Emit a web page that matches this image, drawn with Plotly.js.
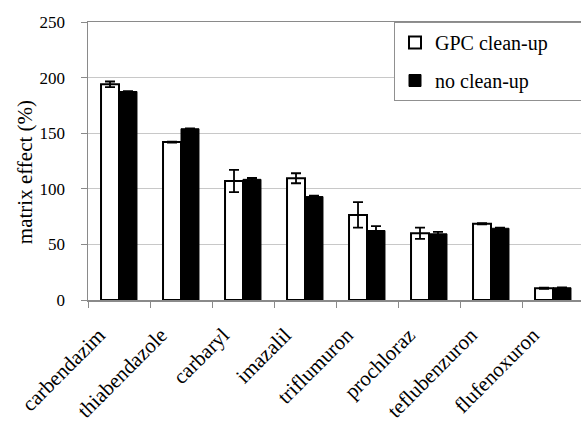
<!DOCTYPE html>
<html>
<head>
<meta charset="utf-8">
<script src="https://cdn.plot.ly/plotly-3.0.1.min.js"></script>
<style>
html, body { margin:0; padding:0; overflow:hidden; background:#fff; }
#chart { width:584px; height:426px; }
</style>
</head>
<body>
<div id="chart"></div>
<script>
var categories = ["carbendazim","thiabendazole","carbaryl","imazalil","triflumuron","prochloraz","teflubenzuron","flufenoxuron"];
var gpcValues = [194, 142, 107, 109.5, 76.5, 60, 68.5, 10.5];
var gpcErrors = [2.5, 0.5, 10, 4.5, 11.5, 5, 0.5, 0.5];
var noValues  = [187.5, 154, 108.5, 93, 62.5, 59.5, 64.5, 11];
var noErrors  = [0.3, 0.3, 1.2, 0.8, 4, 1.8, 0.5, 0.3];
var seriesNames = ["GPC clean-up", "no clean-up"];
var yTicks = [0, 50, 100, 150, 200, 250];
var yTitle = "matrix effect (%)";

var font = "Liberation Serif";
var pad = "\u00a0\u00a0\u00a0\u00a0\u00a0\u00a0";

var traces = [
  {
    type: "bar", x: categories, y: gpcValues, name: seriesNames[0] + pad,
    legendgroup: "a",
    marker: {color: "#ffffff", line: {color: "#000000", width: 2}},
    error_y: {type: "data", array: gpcErrors, visible: true, color: "#000000", thickness: 1.8, width: 5}
  },
  {
    type: "bar", x: categories, y: noValues, name: seriesNames[1] + pad,
    legendgroup: "b",
    marker: {color: "#000000", line: {color: "#000000", width: 1}},
    error_y: {type: "data", array: noErrors, visible: true, color: "#000000", thickness: 1.8, width: 5}
  }
];

var layout = {
  width: 584, height: 426,
  margin: {l: 88, r: 0, t: 22, b: 126, autoexpand: false},
  paper_bgcolor: "#ffffff", plot_bgcolor: "#ffffff",
  font: {family: font, size: 17, color: "#000"},
  barmode: "group", bargap: 0.42, bargroupgap: 0,
  showlegend: true,
  legend: {
    x: 1, xanchor: "right", y: 1, yanchor: "top",
    bordercolor: "#909090", borderwidth: 1, bgcolor: "#ffffff",
    font: {family: font, size: 20, color: "#000"},
    tracegroupgap: 9,
    traceorder: "grouped"
  },
  xaxis: {
    type: "category", tickangle: -45,
    showline: true, linecolor: "#8a8a8a", linewidth: 1.5, mirror: true,
    ticks: "outside", tickson: "boundaries", ticklen: 6, tickcolor: "#8a8a8a",
    ticklabelstandoff: 13, ticklabelshift: -20,
    tickfont: {family: font, size: 21, color: "#000"},
    showgrid: false, automargin: false
  },
  yaxis: {
    range: [0, 250], tickvals: yTicks, ticktext: yTicks.map(String),
    showline: true, linecolor: "#8a8a8a", linewidth: 1.5,
    ticks: "outside", ticklen: 6, tickcolor: "#8a8a8a",
    ticklabelstandoff: 12,
    showgrid: true, gridcolor: "#c8c8c8", gridwidth: 1,
    zeroline: false, automargin: false,
    tickfont: {family: font, size: 17, color: "#000"}
  },
  annotations: [{
    text: yTitle, xref: "paper", yref: "paper",
    x: -0.127, y: 0.46, xanchor: "center", yanchor: "middle",
    textangle: -90, showarrow: false,
    font: {family: font, size: 21, color: "#000"}
  }]
};

Plotly.newPlot("chart", traces, layout, {displayModeBar: false, staticPlot: true});
</script>
</body>
</html>
